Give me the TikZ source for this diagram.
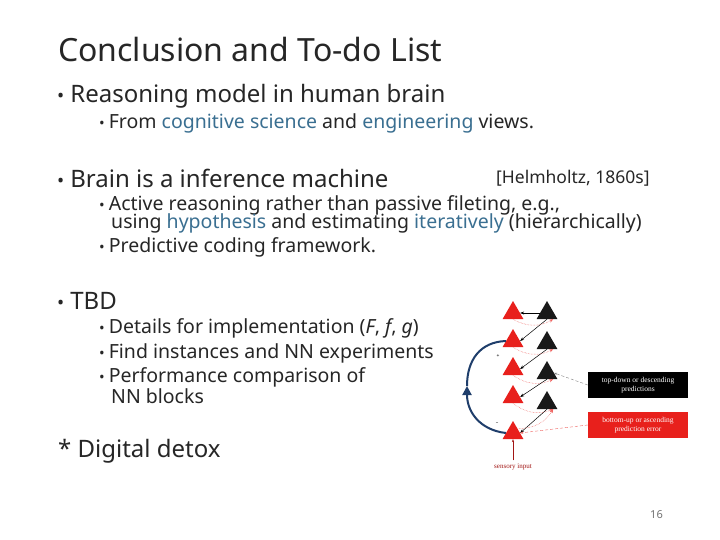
\documentclass[tikz,border=0pt]{standalone}
\usepackage{fontspec}
\setmainfont{Noto Sans}
\newfontfamily\figfont{Liberation Serif}
\usetikzlibrary{arrows.meta,shapes.geometric}
\definecolor{hl}{HTML}{3A6F91}
\definecolor{fr}{HTML}{E8201C}
\definecolor{arcb}{HTML}{1F3E6B}
\begin{document}
\begin{tikzpicture}[x=1pt,y=-1pt,
 txt/.style={anchor=west,inner sep=0pt,text=black!85},
 l1/.style={txt,font=\fontsize{24}{26}\selectfont},
 l2/.style={txt,font=\fontsize{19.5}{19}\selectfont},
 rtri/.style={regular polygon,regular polygon sides=3,fill=fr,minimum size=24pt,inner sep=0pt},
 ktri/.style={regular polygon,regular polygon sides=3,fill=black!90,minimum size=24pt,inner sep=0pt},
 fa/.style={-{Stealth[length=4pt]},line width=0.5pt},
 ea/.style={-{Stealth[length=4pt]},fr!70,densely dotted,line width=0.5pt}]
\useasboundingbox (0,0) rectangle (720,540);
\fill[white] (0,0) rectangle (720,540);
\node[txt,font=\fontsize{32}{34}\selectfont] (title) at (58,50) {Conclusion and To-do List};
\node[l1] (a) at (57,96) {\fontsize{19}{19}\selectfont•\hspace{6pt}\fontsize{24}{26}\selectfont Reasoning model in human brain};
\node[l2] (a1) at (99,123) {\fontsize{15}{15}\selectfont•\hspace{4pt}\fontsize{19.5}{19}\selectfont From \textcolor{hl}{cognitive science} and \textcolor{hl}{engineering} views.};
\node[l1] (b) at (57,178) {\fontsize{19}{19}\selectfont•\hspace{6pt}\fontsize{24}{26}\selectfont Brain is a inference machine};
\node[l2,font=\fontsize{17.5}{19}\selectfont] (hh) at (496,178) {[Helmholtz, 1860s]};
\node[l2] (b1) at (99,205) {\fontsize{15}{15}\selectfont•\hspace{4pt}\fontsize{19.5}{19}\selectfont Active reasoning rather than passive fileting, e.g.,};
\node[l2] (b1b) at (111,223) {using \textcolor{hl}{hypothesis} and estimating \textcolor{hl}{iteratively} (hierarchically)};
\node[l2] (b2) at (99,247) {\fontsize{15}{15}\selectfont•\hspace{4pt}\fontsize{19.5}{19}\selectfont Predictive coding framework.};
\node[l1] (c) at (57,301) {\fontsize{19}{19}\selectfont•\hspace{6pt}\fontsize{24}{26}\selectfont TBD};
\node[l2] (c1) at (99,328) {\fontsize{15}{15}\selectfont•\hspace{4pt}\fontsize{19.5}{19}\selectfont Details for implementation (\textit{F}, \textit{f}, \textit{g})};
\node[l2] (c2) at (99,353) {\fontsize{15}{15}\selectfont•\hspace{4pt}\fontsize{19.5}{19}\selectfont Find instances and NN experiments};
\node[l2] (c3) at (99,377) {\fontsize{15}{15}\selectfont•\hspace{4pt}\fontsize{19.5}{19}\selectfont Performance comparison of};
\node[l2] (c3b) at (111,396) {NN blocks};
\node[l1] (d) at (58,451) {* Digital detox};
\node[txt,font=\fontsize{11}{12}\selectfont,text=black!55] (pg) at (650,515) {16};
% figure
\foreach \i/\y in {1/313,2/341,3/369,4/397,5/433} \node[rtri] (r\i) at (513,\y) {};
\foreach \i/\y in {1/313,2/343,3/373,4/403} \node[ktri] (k\i) at (547,\y) {};
\draw[fa] (k1.west) -- (r1.east);
\draw[fa] (k1.south) -- (r2.east);
\draw[fa] (k2.south) -- (r3.east);
\draw[fa] (k3.south) -- (r4.east);
\draw[fa] (k4.south) -- (r5.east);
\foreach \a/\b in {1/1,2/2,3/3,4/4}{
 \draw[ea] (r\a.south) to[bend right=30] (k\b.south east);}
\draw[ea] (r5.north east) to[bend right=30] (k4.south east);
\coordinate (am) at (467,386);
\draw[arcb,line width=2pt,-{Triangle[length=9pt,width=9pt]}] (r5.west) .. controls (480,430) and (467,412) .. (am);
\draw[arcb,line width=2pt] (am) .. controls (467,360) and (480,342) .. (r2.west);
\node[font=\tiny] (plus) at (498,356) {+};
\node[font=\tiny] (minus) at (497,424) {--};
\node[fill=black,text=white,font=\figfont\fontsize{7.5}{8.5}\selectfont,align=center,minimum width=100pt,minimum height=26pt,inner sep=1pt] (tb) at (638,385) {top-down or descending\\predictions};
\node[fill=fr,text=white,font=\figfont\fontsize{7.5}{8.5}\selectfont,align=center,minimum width=100pt,minimum height=26pt,inner sep=1pt] (bb) at (638,425) {bottom-up or ascending\\prediction error};
\draw[black!50,densely dashed,-{Stealth[length=3pt]}] (tb.west) -- (k3.east);
\draw[fr!70,densely dashed,-{Stealth[length=3pt]}] (bb.west) -- (r5.east);
\node[text=fr!70!black,font=\figfont\fontsize{7}{8}\selectfont] (si) at (513,467) {sensory input};
\draw[fr!70!black,-{Stealth[length=3pt]}] (si.north) -- (r5.south);
\end{tikzpicture}
\end{document}
